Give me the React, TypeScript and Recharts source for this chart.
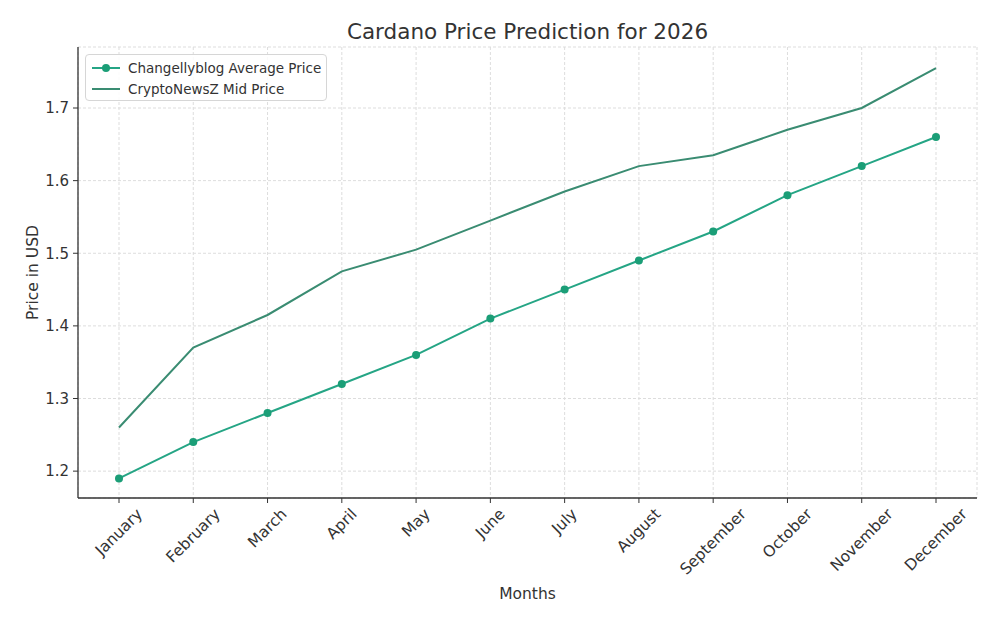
import { LineChart, Line, XAxis, YAxis, CartesianGrid, Label } from 'recharts';

const months = [
  'January', 'February', 'March', 'April', 'May', 'June',
  'July', 'August', 'September', 'October', 'November', 'December',
];
const changellyAvg = [1.19, 1.24, 1.28, 1.32, 1.36, 1.41, 1.45, 1.49, 1.53, 1.58, 1.62, 1.66];
const cryptoNewsMid = [1.26, 1.37, 1.415, 1.475, 1.505, 1.545, 1.585, 1.62, 1.635, 1.67, 1.70, 1.755];
const yTicks = [1.2, 1.3, 1.4, 1.5, 1.6, 1.7];

const FONT = '"DejaVu Sans", sans-serif';
const TEXT = '#333333';
const C1 = '#25a585';
const C1_DOT = '#1b9e77';
const C2 = '#3a8c72';

const data = months.map((m, i) => ({
  month: m,
  changelly: changellyAvg[i],
  cryptonews: cryptoNewsMid[i],
}));

let canvas: HTMLCanvasElement | null = null;
function measure(text: string, size: number) {
  if (!canvas) canvas = document.createElement('canvas');
  const ctx = canvas.getContext('2d')!;
  ctx.font = `${size}px ${FONT}`;
  return ctx.measureText(text).width;
}

// matplotlib style: rotated 45deg, bbox centered on the tick, top under the axis
function MonthTick(props: any) {
  const { x, y, payload } = props;
  const size = 15.5;
  const w = measure(payload.value, size);
  const h = size;
  const bbox = (w + h) * Math.SQRT1_2;
  const cx = x;
  const cy = y + 1 + bbox / 2;
  return (
    <text
      x={cx}
      y={cy}
      transform={`rotate(-45, ${cx}, ${cy})`}
      textAnchor="middle"
      dominantBaseline="central"
      fontFamily={FONT}
      fontSize={size}
      fill={TEXT}
    >
      {payload.value}
    </text>
  );
}

function LegendBox() {
  const rows = [
    { label: 'Changellyblog Average Price', color: C1, dot: true },
    { label: 'CryptoNewsZ Mid Price', color: C2, dot: false },
  ];
  return (
    <div
      style={{
        position: 'absolute',
        top: 54,
        left: 85,
        width: 242,
        height: 47,
        boxSizing: 'border-box',
        border: '1px solid #d6d6d6',
        borderRadius: 4,
        background: 'rgba(255,255,255,0.85)',
        padding: '2px 0 0 6px',
        fontFamily: FONT,
        fontSize: 13.5,
        color: TEXT,
      }}
    >
      {rows.map((r) => (
        <div key={r.label} style={{ display: 'flex', alignItems: 'center', height: 21 }}>
          <svg width={28} height={10} style={{ marginRight: 8 }}>
            <line x1={0} y1={5} x2={28} y2={5} stroke={r.color} strokeWidth={2} />
            {r.dot && <circle cx={14} cy={5} r={4} fill={C1_DOT} />}
          </svg>
          <span>{r.label}</span>
        </div>
      ))}
    </div>
  );
}

export default function App() {
  return (
    <div style={{ width: 1000, height: 631, background: '#fff', position: 'relative' }}>
      <style>{'body{margin:0}'}</style>
      <div
        style={{
          position: 'absolute',
          top: 19,
          width: 1055,
          textAlign: 'center',
          fontFamily: FONT,
          fontSize: 21.5,
          color: TEXT,
        }}
      >
        Cardano Price Prediction for 2026
      </div>
      <LineChart
        width={1000}
        height={631}
        data={data}
        margin={{ top: 47, right: 23, bottom: 0, left: 0 }}
      >
        <CartesianGrid stroke="#dddddd" strokeDasharray="3 2" />
        <XAxis
          dataKey="month"
          height={133}
          padding={{ left: 41, right: 41 }}
          interval={0}
          tick={<MonthTick />}
          tickSize={5}
          axisLine={{ stroke: '#333', strokeWidth: 1.3 }}
          tickLine={{ stroke: '#333' }}
        >
          <Label
            value="Months"
            position="insideBottom"
            offset={32}
            style={{ fontFamily: FONT, fontSize: 15.5, fill: TEXT }}
          />
        </XAxis>
        <YAxis
          width={78}
          domain={[1.163, 1.784]}
          ticks={yTicks}
          allowDataOverflow
          tickFormatter={(v: number) => v.toFixed(1)}
          tickSize={5}
          tickMargin={4}
          tick={{ fontFamily: FONT, fontSize: 15, fill: TEXT }}
          axisLine={{ stroke: '#333', strokeWidth: 1.3 }}
          tickLine={{ stroke: '#333' }}
        >
          <Label
            value="Price in USD"
            angle={-90}
            position="insideLeft"
            offset={32}
            style={{ fontFamily: FONT, fontSize: 15.5, fill: TEXT, textAnchor: 'middle' }}
          />
        </YAxis>
        <Line
          type="linear"
          dataKey="changelly"
          stroke={C1}
          strokeWidth={2}
          dot={{ r: 4, fill: C1_DOT, stroke: C1_DOT, strokeWidth: 0 }}
          isAnimationActive={false}
        />
        <Line
          type="linear"
          dataKey="cryptonews"
          stroke={C2}
          strokeWidth={2}
          dot={false}
          isAnimationActive={false}
        />
      </LineChart>
      <LegendBox />
    </div>
  );
}
